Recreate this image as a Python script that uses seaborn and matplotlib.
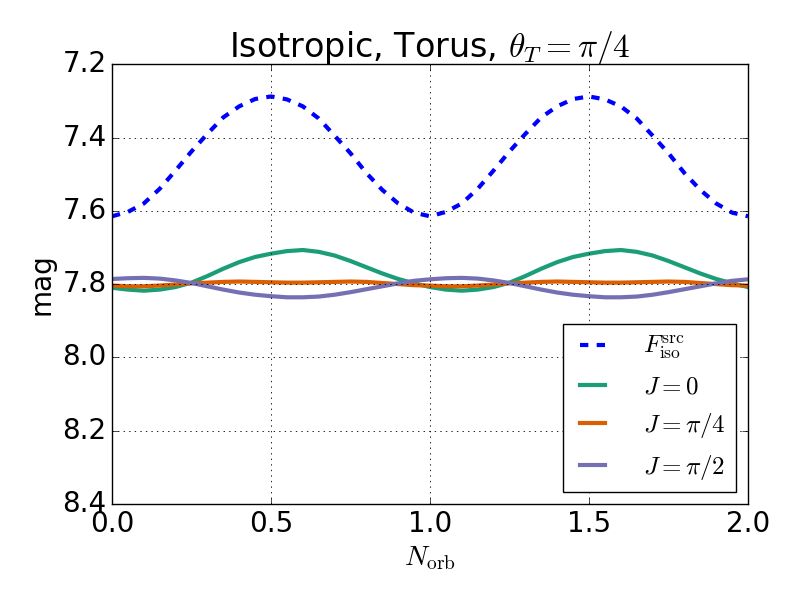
import numpy as np
import pandas as pd
import matplotlib
matplotlib.use('Agg')
import matplotlib.pyplot as plt
import seaborn as sns

# valores, paso 0.05 en N_orb
n_orb = [i * 0.05 for i in range(41)]

f_iso = [7.615, 7.603, 7.580, 7.540, 7.490, 7.438, 7.390, 7.345, 7.315, 7.295,
         7.288, 7.296, 7.315, 7.348, 7.395, 7.443, 7.497, 7.543, 7.580, 7.605,
         7.615, 7.603, 7.580, 7.540, 7.490, 7.438, 7.390, 7.345, 7.315, 7.295,
         7.288, 7.296, 7.315, 7.348, 7.395, 7.443, 7.497, 7.543, 7.580, 7.605,
         7.615]

j_0 = [7.810, 7.815, 7.818, 7.815, 7.808, 7.796, 7.778, 7.758, 7.740, 7.726,
       7.717, 7.710, 7.707, 7.712, 7.722, 7.737, 7.754, 7.771, 7.786, 7.798,
       7.808, 7.815, 7.818, 7.815, 7.808, 7.796, 7.778, 7.758, 7.740, 7.726,
       7.717, 7.710, 7.707, 7.712, 7.722, 7.737, 7.754, 7.771, 7.786, 7.798,
       7.808]

j_pi4 = [7.804, 7.806, 7.806, 7.804, 7.801, 7.798, 7.796, 7.794, 7.793, 7.794,
         7.795, 7.796, 7.796, 7.795, 7.794, 7.793, 7.794, 7.797, 7.800, 7.803,
         7.804, 7.806, 7.806, 7.804, 7.801, 7.798, 7.796, 7.794, 7.793, 7.794,
         7.795, 7.796, 7.796, 7.795, 7.794, 7.793, 7.794, 7.797, 7.800, 7.803,
         7.804]

j_pi2 = [7.786, 7.784, 7.783, 7.785, 7.790, 7.797, 7.806, 7.815, 7.823, 7.829,
         7.833, 7.836, 7.836, 7.834, 7.829, 7.822, 7.814, 7.806, 7.798, 7.791,
         7.787, 7.784, 7.783, 7.785, 7.790, 7.797, 7.806, 7.815, 7.823, 7.829,
         7.833, 7.836, 7.836, 7.834, 7.829, 7.822, 7.814, 7.806, 7.798, 7.791,
         7.787]

plt.style.use('classic')
plt.rcParams['figure.facecolor'] = 'white'
plt.rcParams['savefig.facecolor'] = 'white'
plt.rcParams['mathtext.fontset'] = 'cm'
plt.rcParams['font.family'] = ['DejaVu Sans']

df = pd.DataFrame({'N': n_orb, 'fiso': f_iso, 'j0': j_0, 'j4': j_pi4, 'j2': j_pi2})

fig, ax = plt.subplots(figsize=(8, 6), dpi=100)
fig.subplots_adjust(left=0.14, right=0.935, top=0.893, bottom=0.16)

sns.lineplot(data=df, x='N', y='fiso', ax=ax, color='#0000ff', lw=3, ls='--',
             label=r'$F_{\rm iso}^{\rm src}$')
sns.lineplot(data=df, x='N', y='j0', ax=ax, color='#1b9e77', lw=3, label=r'$J=0$')
sns.lineplot(data=df, x='N', y='j4', ax=ax, color='#d95f02', lw=3, label=r'$J=\pi/4$')
sns.lineplot(data=df, x='N', y='j2', ax=ax, color='#7570b3', lw=3, label=r'$J=\pi/2$')

ax.set_xlim(0, 2)
ax.set_ylim(8.4, 7.2)
ax.set_xticks([0.0, 0.5, 1.0, 1.5, 2.0])
ax.set_yticks([7.2, 7.4, 7.6, 7.8, 8.0, 8.2, 8.4])
ax.tick_params(labelsize=20)
ax.grid(True, color='k', ls=':', lw=0.6)
ax.set_xlabel(r'$N_{\rm orb}$', fontsize=20)
ax.set_ylabel('mag', fontsize=20)
ax.set_title(r'Isotropic, Torus, $\theta_T=\pi/4$', fontsize=24)
ax.legend(loc='lower right', fontsize=18, handlelength=1.6, handletextpad=1.2)

plt.savefig('out.png', dpi=100)
